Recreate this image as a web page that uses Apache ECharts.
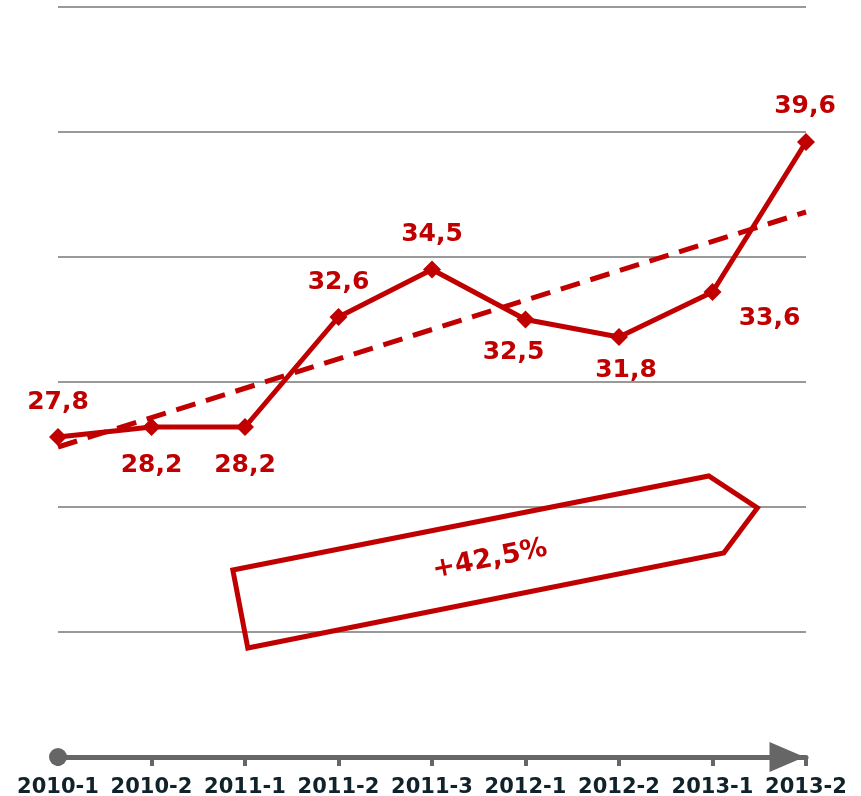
<!DOCTYPE html>
<html>
<head>
<meta charset="utf-8">
<script src="https://cdn.jsdelivr.net/npm/echarts@6/dist/echarts.min.js"></script>
<style>
  html, body { margin: 0; padding: 0; background: #fff; }
  #chart { width: 861px; height: 796px; }
</style>
</head>
<body>
<div id="chart"></div>
<script>
// Half-years on the x axis
const categories = ['2010-1', '2010-2', '2011-1', '2011-2', '2011-3', '2012-1', '2012-2', '2013-1', '2013-2']
// Values of the red line
const values = [27.8, 28.2, 28.2, 32.6, 34.5, 32.5, 31.8, 33.6, 39.6]
// Dashed trend line, its two end values
const trendValues = [27.4, 36.8]
const growthText = '+42,5%'

const red = '#c00000'
const font = 'DejaVu Sans'

// where each value label sits around its point: [dx, dy]
const labelOffsets = [
  [0, -35], [0, 38], [0, 38], [0, -35], [0, -35],
  [-12, 33], [7, 33], [57, 26], [-1, -36]
]

const chart = echarts.init(document.getElementById('chart'))

chart.setOption({
  animation: false,
  grid: {
    left: 58,
    right: 55,
    top: 7,
    bottom: 39,
    outerBoundsMode: 'none'
  },
  xAxis: {
    type: 'category',
    data: categories,
    boundaryGap: false,
    axisLine: {
      lineStyle: { color: '#666', width: 5 },
      symbol: ['none', 'triangle'],
      symbolSize: [30, 35],
      symbolOffset: [0, -19]
    },
    axisTick: {
      show: true,
      length: 9,
      lineStyle: { color: '#666', width: 4 }
    },
    axisLabel: {
      interval: 0,
      margin: 20,
      color: '#10232b',
      fontFamily: font,
      fontWeight: 'bold',
      fontSize: 21
    }
  },
  yAxis: {
    type: 'value',
    min: 15,
    max: 45,
    interval: 5,
    axisLine: { show: false },
    axisTick: { show: false },
    axisLabel: { show: false },
    splitLine: {
      lineStyle: { color: '#999', width: 2 }
    }
  },
  series: [
    {
      name: 'trend',
      type: 'line',
      data: [[categories[0], trendValues[0]], [categories[categories.length - 1], trendValues[1]]],
      symbol: 'none',
      lineStyle: { color: red, width: 5, type: [20, 11] },
      z: 2
    },
    {
      name: 'value',
      type: 'line',
      data: values.map((v, i) => ({
        value: v,
        label: { offset: labelOffsets[i] }
      })),
      symbol: 'diamond',
      symbolSize: 18,
      itemStyle: { color: red },
      lineStyle: { color: red, width: 5 },
      label: {
        show: true,
        position: 'inside',
        color: red,
        fontFamily: font,
        fontWeight: 'bold',
        fontSize: 25,
        formatter: p => String(p.value).replace('.', ',')
      },
      z: 3
    }
  ]
})

// decorations: dot at the axis start and the growth arrow
// category axis snaps to whole indices, so step between the first two by hand
const p0 = chart.convertToPixel({ seriesIndex: 1 }, [0, 15])
const p1 = chart.convertToPixel({ seriesIndex: 1 }, [1, 20])
const toPx = (x, y) => [p0[0] + x * (p1[0] - p0[0]), p0[1] + (y - 15) * (p1[1] - p0[1]) / 5]
const origin = p0
const arrowPts = [[1.87, 22.48], [6.96, 26.24], [7.48, 24.96], [7.12, 23.16], [2.03, 19.36]].map(p => toPx(p[0], p[1]))
const textPos = toPx(4.62, 22.9)

chart.setOption({
  graphic: [
    {
      type: 'circle',
      shape: { cx: origin[0], cy: origin[1], r: 9 },
      style: { fill: '#666' },
      z: 10
    },
    {
      type: 'polygon',
      shape: { points: arrowPts },
      style: { fill: 'none', stroke: red, lineWidth: 5, lineJoin: 'miter' },
      z: 10
    },
    {
      type: 'text',
      x: textPos[0],
      y: textPos[1],
      rotation: 11.2 * Math.PI / 180,
      style: {
        text: growthText,
        fill: red,
        font: 'bold 27px "DejaVu Sans"',
        align: 'center',
        verticalAlign: 'middle'
      },
      z: 10
    }
  ]
})
</script>
</body>
</html>
